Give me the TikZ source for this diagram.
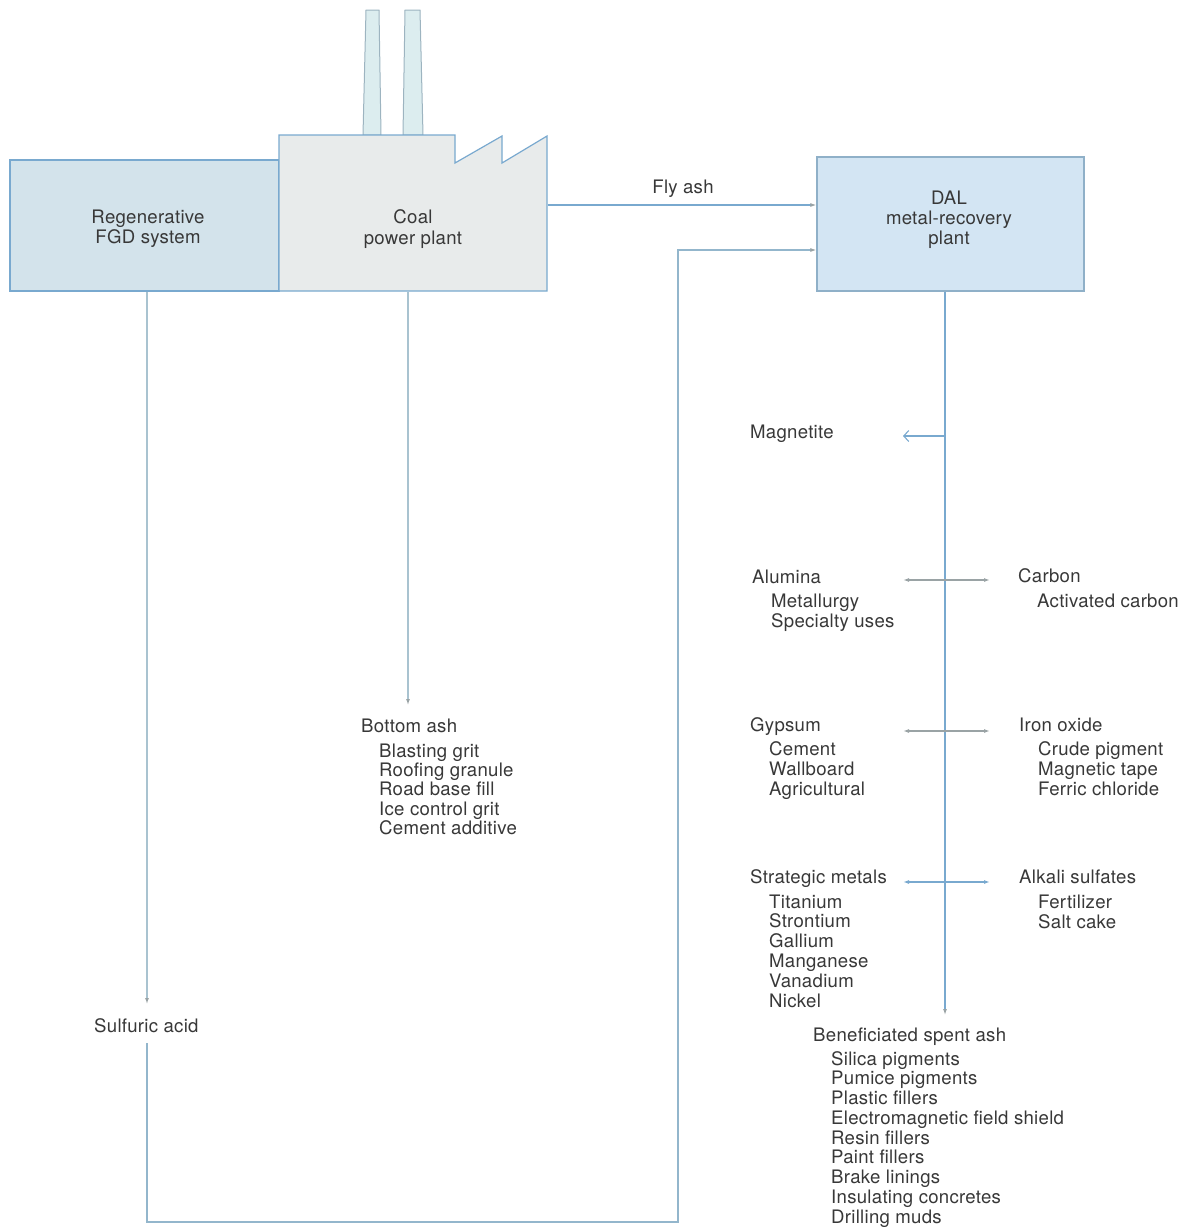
\documentclass[tikz,border=0pt]{standalone}
\usepackage{fontspec}
\setmainfont{TeX Gyre Heros}[LetterSpace=1.5]
\usetikzlibrary{arrows.meta}
\definecolor{lineblue}{HTML}{79A9CF}
\definecolor{loopline}{HTML}{93B6CC}
\definecolor{paleline}{HTML}{A9C3D0}
\definecolor{tipgray}{HTML}{9AA3A5}
\definecolor{fgdfill}{HTML}{D3E3EB}
\definecolor{coalfill}{HTML}{E8EBEB}
\definecolor{dalfill}{HTML}{D3E5F3}
\definecolor{dalborder}{HTML}{8FB0C8}
\definecolor{chimfill}{HTML}{DCEDEF}
\definecolor{chimline}{HTML}{9DB4C0}
\definecolor{txtgray}{HTML}{383838}
\begin{document}
\begin{tikzpicture}[x=1pt,y=-1pt,
  font=\fontsize{18.6}{20.2}\selectfont,
  txt/.style={anchor=base west, inner sep=0pt, text=txtgray},
  boxnode/.style={line width=1.2pt, align=center, text=txtgray, inner sep=0pt},
  boxlabel/.style={align=center, text=txtgray, inner sep=0pt},
  flow/.style={draw=lineblue, line width=1.1pt, -{Latex[length=6pt,width=4pt,color=tipgray]}},
  paleflow/.style={draw=paleline, line width=1.1pt, -{Latex[length=6pt,width=4pt,color=tipgray]}},
  loopflow/.style={draw=loopline, line width=1.1pt, -{Latex[length=6pt,width=4pt,color=tipgray]}},
  dbl/.style={line width=1.3pt, {Latex[length=6pt,width=4pt]}-{Latex[length=6pt,width=4pt]}},
  barb/.style={draw=lineblue, line width=1.1pt, -{Straight Barb[length=5pt,width=11pt]}}
]
\useasboundingbox (0,0) rectangle (1197,1227);

% chimneys
\draw[fill=chimfill, draw=chimline, line width=1pt] (363,135) -- (366,10) -- (379,10) -- (381,135) -- cycle;
\draw[fill=chimfill, draw=chimline, line width=1pt] (403,135) -- (405,10) -- (420,10) -- (423,135) -- cycle;

% FGD system
\node[boxnode, draw=lineblue, fill=fgdfill, minimum width=269pt, minimum height=131pt] (fgd) at (144.5,225.5) {};
\node[boxlabel] (fgdtext) at (148,229) {Regenerative\\FGD system};

% coal power plant outline
\draw[fill=coalfill, draw=lineblue, line width=1.2pt, line join=miter]
  (279,291) -- (279,135) -- (455,135) -- (455,163) -- (502,136) -- (502,163) -- (547,136) -- (547,291) -- cycle;
\node[boxnode, minimum width=268pt, minimum height=128pt] (coal) at (413,227) {};
\node[boxlabel] (coaltext) at (413,229) {Coal\\power plant};

% DAL plant
\node[boxnode, draw=dalborder, fill=dalfill, minimum width=267pt, minimum height=134pt] (dal) at (950.5,224) {};
\node[boxlabel] (daltext) at (949,220) {DAL\\metal-recovery\\plant};

% labels
\node[anchor=base, inner sep=0pt, text=txtgray] (fly) at (683,193) {Fly ash};
\node[txt] (acid) at (94,1032) {Sulfuric acid};
\node[txt] (bash) at (361,732) {Bottom ash};
\foreach \t [count=\i] in {Blasting grit,Roofing granule,Road base fill,Ice control grit,Cement additive}
  \node[txt] (bash\i) at (379,{757+(\i-1)*19.4}) {\t};

\node[txt] (magn) at (750,438) {Magnetite};

\node[txt] (alum) at (752,583) {Alumina};
\node[txt] (alum1) at (771,607) {Metallurgy};
\node[txt] (alum2) at (771,627) {Specialty uses};
\node[txt] (carb) at (1018,582) {Carbon};
\node[txt] (carb1) at (1037,607) {Activated carbon};

\node[txt] (gyps) at (750,731) {Gypsum};
\foreach \t [count=\i] in {Cement,Wallboard,Agricultural}
  \node[txt] (gyps\i) at (769,{755+(\i-1)*20}) {\t};
\node[txt] (iron) at (1019,731) {Iron oxide};
\foreach \t [count=\i] in {Crude pigment,Magnetic tape,Ferric chloride}
  \node[txt] (iron\i) at (1038,{755+(\i-1)*20}) {\t};

\node[txt] (strat) at (750,883) {Strategic metals};
\foreach \t [count=\i] in {Titanium,Strontium,Gallium,Manganese,Vanadium,Nickel}
  \node[txt] (strat\i) at (769,{908+(\i-1)*19.8}) {\t};
\node[txt] (alk) at (1019,883) {Alkali sulfates};
\foreach \t [count=\i] in {Fertilizer,Salt cake}
  \node[txt] (alk\i) at (1038,{908+(\i-1)*20}) {\t};

\node[txt] (benef) at (813,1041) {Beneficiated spent ash};
\foreach \t [count=\i] in {Silica pigments,Pumice pigments,Plastic fillers,Electromagnetic field shield,Resin fillers,Paint fillers,Brake linings,Insulating concretes,Drilling muds}
  \node[txt] (benef\i) at (831,{1065+(\i-1)*19.75}) {\t};

% coordinates for connectors
\coordinate (flyY) at (0,205);
\coordinate (acidTip) at (147,1004);
\coordinate (acidOut) at (147,1043);
\coordinate (bendA) at (147,1222);
\coordinate (bendB) at (678,1222);
\coordinate (bendC) at (678,250);
\coordinate (baTip) at (408,705);
\coordinate (dalTip) at (945,1015);
\coordinate (magL) at (903,436);
\coordinate (d1L) at (903,580);
\coordinate (d1R) at (990,580);
\coordinate (d2L) at (903,731);
\coordinate (d2R) at (990,731);
\coordinate (d3L) at (903,882);
\coordinate (d3R) at (990,882);

% connectors
\draw[flow] (coal.east |- flyY) -- (dal.west |- flyY);
\draw[paleflow] (fgd.south -| acidTip) -- (acidTip);
\draw[loopflow] (acidOut) -- (bendA) -- (bendB) -- (bendC) -- (dal.west |- bendC);
\draw[paleflow] (coal.south -| baTip) -- (baTip);
\draw[flow] (dal.south -| dalTip) -- (dalTip);
\draw[barb] (dalTip |- magL) -- (magL);
\draw[dbl, draw=tipgray] (d1L) -- (d1R);
\draw[dbl, draw=tipgray] (d2L) -- (d2R);
\draw[dbl, draw=lineblue] (d3L) -- (d3R);
\end{tikzpicture}
\end{document}
